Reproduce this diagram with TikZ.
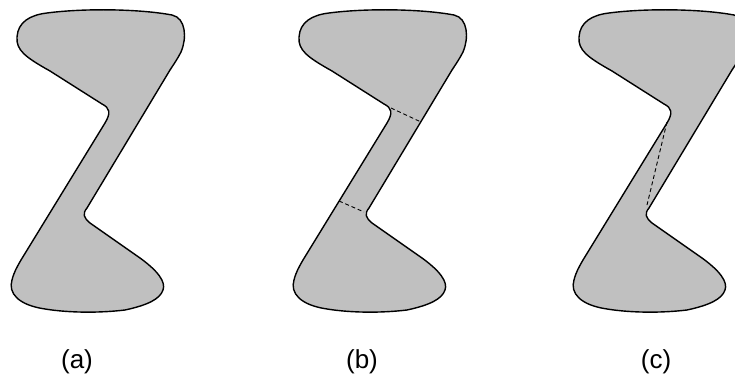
\documentclass[tikz,border=0pt]{standalone}
\usepackage{fontspec}
\setmainfont{Liberation Sans}
\usepackage{tikz}
\usetikzlibrary{calc}
\definecolor{zgray}{RGB}{192,192,192}
\newcommand{\zregion}{%
  (47,13) .. controls (85,8) and (140,9) .. (172,15)
  .. controls (186,18) and (187,38) .. (181,52)
  .. controls (178,58) and (174,64) .. (170,70)
  -- (87,208)
  .. controls (82,214) and (84,218) .. (90,223)
  -- (140,258)
  .. controls (158,271) and (166,282) .. (163,290)
  .. controls (160,299) and (148,305) .. (125,310)
  .. controls (100,313) and (70,313) .. (45,309)
  .. controls (18,305) and (8,293) .. (12,280)
  .. controls (14,272) and (17,267) .. (21,260)
  -- (105,123)
  .. controls (111,113) and (110,108) .. (102,104)
  -- (50,71)
  .. controls (25,57) and (16,50) .. (17,37)
  .. controls (18,22) and (30,15) .. (47,13) -- cycle}

\begin{document}
\begin{tikzpicture}[x=0.5pt,y=-0.5pt,
  region/.style={fill=zgray,draw=black,line width=0.7pt},
  cutline/.style={draw=black,line width=0.45pt,dash pattern=on 2pt off 1.4pt},
  caption/.style={font=\fontsize{13}{15}\selectfont,anchor=base,inner sep=0pt}]
  \clip (0,0) rectangle (735,375);
  % (a)
  \draw[region] \zregion;
  \node[caption] (capa) at (77,368) {(a)};
  % (b)
  \begin{scope}[shift={(282,0)}]
    \draw[region] \zregion;
    \coordinate (bu1) at (109,108);
    \coordinate (bu2) at (139,122);
    \coordinate (bl1) at (57,201);
    \coordinate (bl2) at (82,212);
    \draw[cutline] (bu1) -- (bu2);
    \draw[cutline] (bl1) -- (bl2);
  \end{scope}
  \node[caption] (capb) at (362,368) {(b)};
  % (c)
  \begin{scope}[shift={(562,0)}]
    \draw[region] \zregion;
    \coordinate (cu) at (105,122);
    \coordinate (cl) at (85,205);
    \draw[cutline] (cu) -- (cl);
  \end{scope}
  \node[caption] (capc) at (656,368) {(c)};
\end{tikzpicture}
\end{document}
